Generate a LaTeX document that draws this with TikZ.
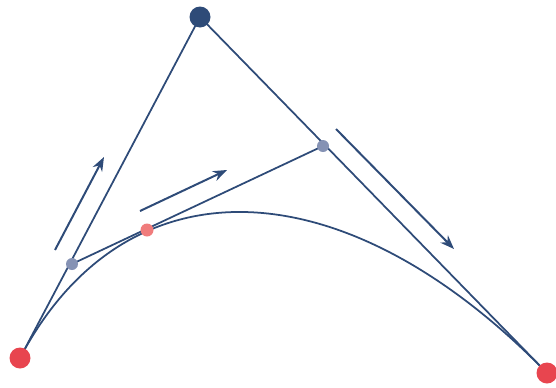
\documentclass[tikz,border=0pt]{standalone}
\usepackage{xcolor}
\usepackage{tikz}
\usetikzlibrary{arrows.meta,calc}

\definecolor{navy}{HTML}{2E4B78}
\definecolor{ptred}{HTML}{E8454F}
\definecolor{ptpink}{HTML}{F07C7C}
\definecolor{ptgrey}{HTML}{8592B4}

\begin{document}
\begin{tikzpicture}[x=0.03cm,y=-0.03cm,
  every node/.style={circle,inner sep=0pt,draw=none},
  ctrl/.style={fill=navy,minimum size=21*0.03cm},
  endpt/.style={fill=ptred,minimum size=21*0.03cm},
  midpt/.style={fill=ptgrey,minimum size=12*0.03cm},
  curvept/.style={fill=ptpink,minimum size=13*0.03cm},
  seg/.style={navy,line width=1.5pt},
  dir/.style={navy,line width=1.7pt,-{Stealth[length=12pt,width=9pt]}}]
  \useasboundingbox (0,0) rectangle (556,387);
  % control polygon and points
  \coordinate (p0c) at (20,358);
  \coordinate (p1c) at (200,17);
  \coordinate (p2c) at (547,373);
  \coordinate (ac) at (72,264);
  \coordinate (bc) at (323,146);
  \coordinate (cc) at (147,230);
  \coordinate (k1) at ($(p0c)!0.587!(p1c)$);
  \coordinate (k2) at ($(p2c)!0.587!(p1c)$);
  \draw[seg] (p0c) .. controls (k1) and (k2) .. (p2c);
  \draw[seg] (p0c) -- (p1c) -- (p2c);
  \draw[seg] (ac) -- (bc);
  \node[endpt] (p0) at (p0c) {};
  \node[ctrl] (p1) at (p1c) {};
  \node[endpt] (p2) at (p2c) {};
  \node[midpt] (a) at (ac) {};
  \node[midpt] (b) at (bc) {};
  \node[curvept] (c) at (cc) {};
  % direction arrows
  \coordinate (u0) at (55,250); \coordinate (u1) at (104,157);
  \coordinate (v0) at (140,211); \coordinate (v1) at (227,170);
  \coordinate (w0) at (336,129); \coordinate (w1) at (454,249);
  \draw[dir] (u0) -- (u1);
  \draw[dir] (v0) -- (v1);
  \draw[dir] (w0) -- (w1);
\end{tikzpicture}
\end{document}
